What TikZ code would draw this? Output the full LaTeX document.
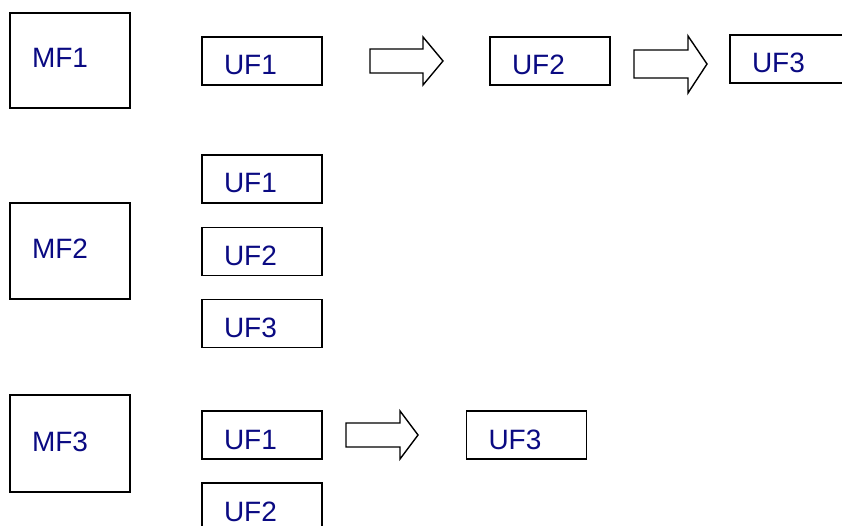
\documentclass[tikz,border=0pt]{standalone}
\usepackage{fontspec}
\setmainfont{Liberation Sans}
\definecolor{labelblue}{RGB}{10,10,130}
\tikzset{
  mfbox/.style={draw, line width=1.5pt, minimum width=120pt, minimum height=96pt,
    inner xsep=22pt, inner ysep=0pt, text width=76pt, align=left,
    text height=15pt, text depth=0pt, font=\fontsize{28}{30}\selectfont, text=labelblue},
  ufbox/.style={mfbox, minimum height=48pt, text height=28pt},
  flowarrow/.style={draw, line width=1.4pt, line join=miter}
}
\begin{document}
\begin{tikzpicture}[x=1pt,y=-1pt]
      \useasboundingbox (0,0) rectangle (842,526);
      % first row
      \node[mfbox, minimum height=95pt] (mf1) at (70,60.5){MF1};
      \node[ufbox] (uf1a) at (262,61){UF1};
      \node[ufbox] (uf2a) at (550,61){UF2};
      \node[ufbox] (uf3a) at (790,59){UF3};
      \draw[flowarrow] (370,49) -- (423,49) -- (423,37) -- (443,61) -- (423,85) -- (423,73) -- (370,73) -- cycle;
      \draw[flowarrow] (634,50) -- (688,50) -- (688,36) -- (707,64) -- (688,93) -- (688,78) -- (634,78) -- cycle;

      % second row
      \node[mfbox] (mf2) at (70,251){MF2};
      \node[ufbox] (uf1b) at (262,179){UF1};
      \node[ufbox] (uf2b) at (262,251.5){UF2};
      \node[ufbox] (uf3b) at (262,323.5){UF3};

      % third row
      \node[mfbox, minimum height=97pt] (mf3) at (70,443.5){MF3};
      \node[ufbox] (uf1c) at (262,435){UF1};
      \node[ufbox] (uf3c) at (526.5,435){UF3};
      \node[ufbox] (uf2c) at (262,507){UF2};
      \draw[flowarrow] (346,423) -- (400,423) -- (400,411) -- (418,435) -- (400,459) -- (400,447) -- (346,447) -- cycle;

    \end{tikzpicture}
\end{document}
